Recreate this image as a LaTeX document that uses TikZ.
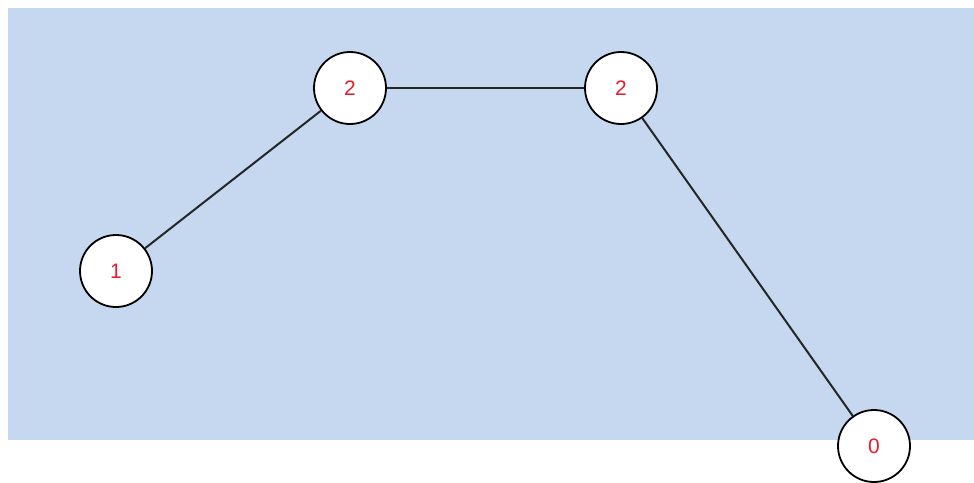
\documentclass[tikz,border=0pt]{standalone}
\usepackage{fontspec}
\setmainfont{Liberation Sans}
\definecolor{bgblue}{HTML}{C5D8EF}
\definecolor{numred}{HTML}{E0202E}
\begin{document}
\begin{tikzpicture}[x=1pt,y=-1pt,
  vert/.style={circle,draw=black,line width=1.8pt,fill=white,minimum size=72pt,inner sep=0pt,text=numred,font=\fontsize{21}{24}\selectfont},
  edge/.style={draw=black!85,line width=2pt}]
\useasboundingbox (0,0) rectangle (974,482);
\fill[white] (0,0) rectangle (974,482);
\fill[bgblue] (8,8) rectangle (974,440);
\node[vert] (a) at (116,271) {1};
\node[vert] (b) at (350,88) {2};
\node[vert] (c) at (621,88) {2};
\node[vert] (d) at (874,446) {0};
\draw[edge] (a) -- (b);
\draw[edge] (b) -- (c);
\draw[edge] (c) -- (d);
\end{tikzpicture}
\end{document}
